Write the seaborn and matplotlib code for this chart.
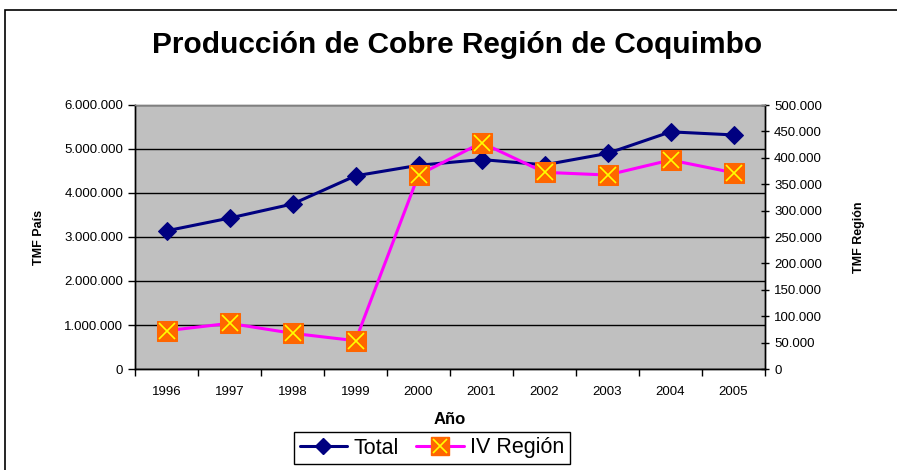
import numpy as np
import matplotlib
matplotlib.use("Agg")
import matplotlib.pyplot as plt
import seaborn as sns
from matplotlib.lines import Line2D
from matplotlib.legend_handler import HandlerTuple
from matplotlib.ticker import FuncFormatter, FixedLocator

years = ["1996", "1997", "1998", "1999", "2000", "2001", "2002", "2003", "2004", "2005"]
total_pais = [3140000, 3430000, 3750000, 4390000, 4630000, 4760000, 4640000, 4900000, 5390000, 5320000]
iv_region = [72500, 86500, 67600, 53600, 367400, 428600, 372500, 367400, 395800, 371800]

sns.set_style("white")
plt.rcParams["font.family"] = ["Liberation Sans", "DejaVu Sans"]
plt.rcParams.update({"text.color": "black", "axes.labelcolor": "black",
                     "xtick.color": "black", "ytick.color": "black"})

fig = plt.figure(figsize=(8.97, 4.70), dpi=100)
ax = fig.add_axes([135 / 897, 1 - 369 / 470, 630 / 897, 264 / 470])
ax2 = ax.twinx()

pos = np.arange(len(years))

ax.set_facecolor("#C0C0C0")
sns.lineplot(x=pos, y=total_pais, ax=ax, color="#000080", lw=2.2, marker="D",
             markersize=9.5, markeredgecolor="#000080", zorder=3)
sns.lineplot(x=pos, y=iv_region, ax=ax2, color="#FF00FF", lw=2.2, marker="s",
             markersize=15, markerfacecolor="#FF6600", markeredgecolor="#FF6600", zorder=3)
ax2.plot(pos, iv_region, ls="none", marker="x", markersize=12, mec="#FFFF00", mew=1.2, zorder=4)

fmt = FuncFormatter(lambda v, p: f"{int(v):,}".replace(",", "."))

ax.set_ylim(0, 6000000)
ax.set_yticks(np.arange(0, 6000001, 1000000))
ax.yaxis.set_major_formatter(fmt)
ax.grid(axis="y", color="black", lw=1)
ax.set_axisbelow(True)

ax2.set_ylim(0, 500000)
ax2.set_yticks(np.arange(0, 500001, 50000))
ax2.yaxis.set_major_formatter(fmt)
ax2.grid(False)

ax.set_xlim(-0.5, len(years) - 0.5)
ax.xaxis.set_major_locator(FixedLocator(np.arange(-0.5, len(years), 1.0)))
ax.xaxis.set_minor_locator(FixedLocator(pos))
ax.set_xticklabels([])
ax.set_xticklabels(years, minor=True)
ax.tick_params(axis="x", which="major", length=5, width=1, color="black", direction="out", bottom=True)
ax.tick_params(axis="x", which="minor", length=0, pad=12, labelsize=9.5)
ax.tick_params(axis="y", length=5, width=1, color="black", direction="out", left=True, labelsize=9.5)
ax2.tick_params(axis="y", length=6, width=1, color="black", direction="inout", right=True, labelsize=9.5)

for a in (ax, ax2):
    for s in a.spines.values():
        s.set_color("black")
        s.set_linewidth(1)
    a.spines["top"].set_color("#808080")

ax.set_ylabel("TMF País", fontsize=9, fontweight="bold", labelpad=14)
ax2.set_ylabel("TMF Región", fontsize=9, fontweight="bold", labelpad=22)
ax.set_xlabel("Año", fontsize=12, fontweight="bold", labelpad=10)

fig.text(457 / 897, 1 - 45 / 470, "Producción de Cobre Región de Coquimbo", ha="center", va="center",
         fontsize=21.5, fontweight="bold")

h_total = Line2D([], [], color="#000080", lw=2.2, marker="D", markersize=8)
h_sq = Line2D([], [], color="#FF00FF", lw=2.2, marker="s", markersize=13,
              markerfacecolor="#FF6600", markeredgecolor="#FF6600")
h_x = Line2D([], [], ls="none", marker="x", markersize=10, mec="#FFFF00", mew=1.2)
leg = fig.legend([h_total, (h_sq, h_x)], ["Total", "IV Región"],
                 handler_map={tuple: HandlerTuple(ndivide=1, pad=0)},
                 loc="center", bbox_to_anchor=(432 / 897, 1 - 448 / 470), ncol=2,
                 fontsize=15.5, frameon=True, fancybox=False, edgecolor="black",
                 handlelength=2.2, handletextpad=0.3, columnspacing=0.8,
                 borderpad=0.25, framealpha=1)
leg.get_frame().set_linewidth(1)

fig.patches.append(plt.Rectangle((5 / 897, -0.05), 1.0, 1 - 10 / 470 + 0.05, transform=fig.transFigure,
                                 fill=False, edgecolor="black", lw=1.2))

fig.savefig("out.png", dpi=100)
